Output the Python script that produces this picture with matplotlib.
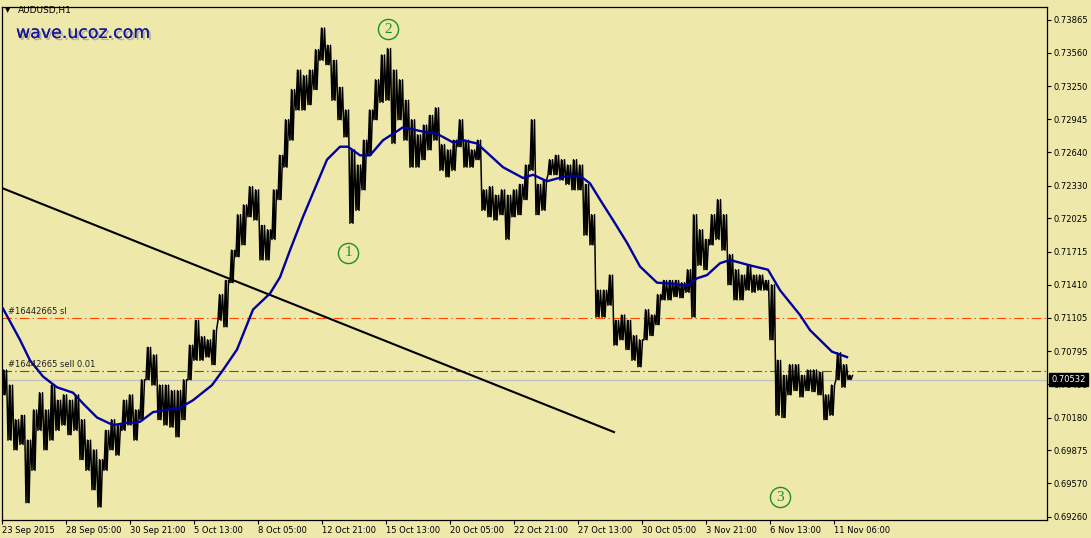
import numpy as np
import matplotlib
matplotlib.use("Agg")
import matplotlib.pyplot as plt
import matplotlib.patheffects as pe

# ---------------- data ----------------
symbol = "AUDUSD,H1"
watermark = "wave.ucoz.com"

# sampled hourly ranges (every 6 bars): highs and lows
price_high = [
    .7062, .7048, .7016, .7020, .6997, .7025, .7041, .7025, .7048, .7034,
    .7039, .7034, .7039, .7016, .6997, .6988, .6979, .7006, .7016, .7011,
    .7034, .7039, .7025, .7053, .7083, .7076, .7048, .7048, .7043, .7043,
    .7053, .7085, .7108, .7093, .7090, .7099, .7132, .7145, .7173, .7206,
    .7215, .7232, .7229, .7196, .7192, .7229, .7261, .7294, .7322, .7340,
    .7335, .7340, .7359, .7379, .7363, .7349, .7324, .7303, .7266, .7252,
    .7275, .7303, .7331, .7354, .7360, .7340, .7331, .7312, .7294, .7280,
    .7289, .7298, .7305, .7271, .7266, .7275, .7294, .7275, .7266, .7275,
    .7229, .7232, .7224, .7229, .7224, .7229, .7234, .7252, .7294, .7234,
    .7238, .7257, .7261, .7257, .7252, .7257, .7252, .7234, .7206, .7136,
    .7136, .7150, .7108, .7113, .7108, .7094, .7090, .7118, .7113, .7132,
    .7145, .7145, .7145, .7143, .7155, .7206, .7192, .7183, .7206, .7220,
    .7206, .7169, .7155, .7150, .7159, .7150, .7150, .7145, .7141, .7071,
    .7057, .7067, .7067, .7057, .7062, .7062, .7060, .7039, .7048, .7078,
    .7067, .7057,
]
price_low = [
    .7039, .6997, .6988, .6993, .6939, .6969, .7006, .6988, .6997, .7006,
    .7011, .7002, .7006, .6979, .6969, .6951, .6935, .6969, .6988, .6983,
    .7006, .7011, .6997, .7016, .7053, .7048, .7016, .7011, .7009, .7000,
    .7016, .7053, .7071, .7071, .7074, .7067, .7108, .7102, .7143, .7167,
    .7178, .7204, .7201, .7164, .7164, .7183, .7220, .7250, .7275, .7303,
    .7303, .7308, .7322, .7349, .7345, .7312, .7294, .7278, .7198, .7210,
    .7229, .7261, .7294, .7310, .7312, .7272, .7294, .7275, .7250, .7250,
    .7257, .7266, .7275, .7247, .7241, .7247, .7269, .7250, .7250, .7257,
    .7210, .7204, .7201, .7206, .7183, .7204, .7206, .7220, .7247, .7206,
    .7210, .7243, .7243, .7238, .7234, .7229, .7229, .7187, .7178, .7111,
    .7111, .7122, .7085, .7090, .7081, .7071, .7065, .7090, .7094, .7104,
    .7127, .7127, .7130, .7129, .7134, .7111, .7159, .7155, .7178, .7183,
    .7173, .7141, .7127, .7127, .7136, .7134, .7136, .7136, .7090, .7020,
    .7018, .7039, .7043, .7037, .7043, .7042, .7039, .7016, .7020, .7053,
    .7046, .70532,
]

# moving average (bar index, value)
ma_bar = [1, 18, 28, 41, 55, 71, 81, 95, 111, 125, 138, 151, 178, 191, 210,
          221, 235, 251, 268, 278, 288, 301, 325, 338, 346, 358, 368, 381,
          401, 421, 435, 451, 461, 475, 488, 501, 521, 531, 545, 565, 578,
          588, 598, 611, 625, 638, 655, 671, 685, 695, 705, 718, 728, 748,
          766, 778, 798, 808, 830, 845]
ma_val = [.7119, .7090, .7071, .7056, .7046, .7041, .7031, .7018, .7011, .7013,
          .7014, .7023, .7027, .7034, .7048, .7062, .7081, .7118, .7133, .7148,
          .7173, .7204, .7257, .7269, .7269, .7261, .7261, .7275, .7287, .7283,
          .7281, .7273, .7275, .7272, .7261, .7250, .7240, .7243, .7237, .7242,
          .7242, .7235, .7220, .7201, .7180, .7158, .7143, .7142, .7140, .7147,
          .7150, .7161, .7164, .7159, .7155, .7136, .7113, .7099, .7079, .7074]

trend_bar = [0, 612]
trend_val = [0.72307, 0.70045]

sl_level = 0.71105
sell_level = 0.70611
bid_level = 0.70532

wave_labels = ["1", "2", "3"]
wave_bar = [346, 386, 778]
wave_val = [0.71705, 0.73781, 0.69443]

y_ticks = [0.73865, 0.73560, 0.73250, 0.72945, 0.72640, 0.72330, 0.72025,
           0.71715, 0.71410, 0.71105, 0.70795, 0.70490, 0.70180, 0.69875,
           0.69570, 0.69260]
x_labels = ["23 Sep 2015", "28 Sep 05:00", "30 Sep 21:00", "5 Oct 13:00",
            "8 Oct 05:00", "12 Oct 21:00", "15 Oct 13:00", "20 Oct 05:00",
            "22 Oct 21:00", "27 Oct 13:00", "30 Oct 05:00", "3 Nov 21:00",
            "6 Nov 13:00", "11 Nov 06:00"]

# ---------------- figure ----------------
BG = "#EEE8AA"
W, H = 1091, 538
fig = plt.figure(figsize=(W / 100, H / 100), dpi=100, facecolor=BG)
ax = fig.add_axes([2 / W, 18 / H, 1045 / W, 513 / H], facecolor=BG)
ax.set_xlim(0, 1045)
ax.set_ylim(0.69230, 0.73985)

# price bars drawn as a dense zigzag through each sample's low/high range
n = len(price_high)
bars = np.arange(n) * 6
zx, zy = [], []
for b, h, l in zip(bars, price_high, price_low):
    zx += [b, b + 1.5, b + 3, b + 4.5]
    zy += [l, h, l, h]
ax.plot(zx, zy, color="black", lw=1.1, zorder=4)
ax.vlines(bars + 1.5, price_low, price_high, color="black", lw=1.3, zorder=4)

# moving average
ax.plot(ma_bar, ma_val, color="#0000A0", lw=1.7, zorder=5)

# trend line
ax.plot(trend_bar, trend_val, color="black", lw=1.5, zorder=3)

# levels
ax.axhline(bid_level, color="#C0C0C0", lw=0.9, zorder=2)
ax.axhline(sl_level, color="#FF4500", lw=0.8, ls=(0, (8.5, 3, 1.2, 3)), zorder=2)
ax.axhline(sell_level, color="#1E7A1E", lw=0.8, ls=(0, (8.5, 3, 1.2, 3)), zorder=2)
ax.text(6, sl_level + 0.0002, "#16442665 sl", fontsize=6, color="#202020",
        va="bottom", ha="left", zorder=6)
ax.text(6, sell_level + 0.0002, "#16442665 sell 0.01", fontsize=6,
        color="#202020", va="bottom", ha="left", zorder=6)

# wave labels
for lab, b, v in zip(wave_labels, wave_bar, wave_val):
    ax.plot([b], [v], marker="o", ms=14.5, mfc="none", mec="#1F8F1F", mew=1.0,
            zorder=6)
    ax.text(b, v, lab, fontsize=11, color="#1F8F1F", ha="center", va="center",
            family="Liberation Serif", zorder=6)

# axes styling
for s in ax.spines.values():
    s.set_color("black")
    s.set_linewidth(0.9)
ax.yaxis.tick_right()
ax.set_yticks(y_ticks)
ax.set_yticklabels([f"{t:.5f}" for t in y_ticks])
ax.tick_params(axis="y", direction="out", length=3, width=0.8, pad=2,
               labelsize=6, colors="black")
ax.set_xticks(np.arange(len(x_labels)) * 64)
ax.set_xticklabels(x_labels)
ax.tick_params(axis="x", direction="out", length=3, width=0.8, pad=1,
               labelsize=6, colors="black")
for t in ax.get_xticklabels():
    t.set_ha("left")

# current price box
ax.annotate(f"{bid_level:.5f}", xy=(1, bid_level), xycoords=("axes fraction", "data"),
            xytext=(3, 0), textcoords="offset points", fontsize=6, color="white",
            va="center", ha="left", annotation_clip=False, zorder=20,
            bbox=dict(boxstyle="square,pad=0.25", fc="black", ec="black"))

# header texts
fig.text(8 / W, 1 - 10 / H, "\u25BC", fontsize=5, color="black", va="center", ha="center")
fig.text(18 / W, 1 - 10 / H, symbol, fontsize=6.5, color="black", va="center", ha="left")
fig.text(16 / W, 1 - 33 / H, watermark, fontsize=12.5, color="#14149C",
         va="center", ha="left",
         path_effects=[pe.withSimplePatchShadow(offset=(1.5, -1.5),
                                                 shadow_rgbFace="#888888", alpha=0.6),
                       pe.Normal()])

fig.savefig("out.png", dpi=100, facecolor=BG)
